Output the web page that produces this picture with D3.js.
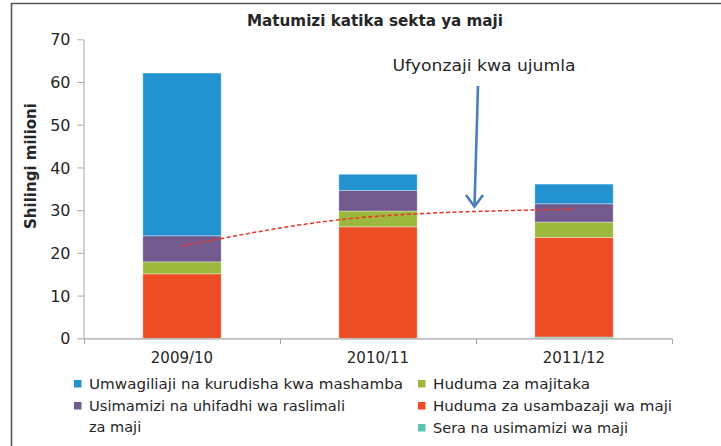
<!DOCTYPE html>
<html><head><meta charset="utf-8">
<script src="https://cdn.jsdelivr.net/npm/d3@7"></script>
<style>body{margin:0;background:#fff}svg{display:block}text{font-family:"DejaVu Sans",sans-serif;fill:#262626}</style>
</head><body>
<svg id="c" width="721" height="446"></svg>
<script>
const categories = ["2009/10", "2010/11", "2011/12"];
const seriesNames = [
  "Sera na usimamizi wa maji",
  "Huduma za usambazaji wa maji",
  "Huduma za majitaka",
  "Usimamizi na uhifadhi wa raslimali za maji",
  "Umwagiliaji na kurudisha kwa mashamba"
];
const sera = [0, 0, 0.3];
const usambazaji = [15.1, 26.1, 23.3];
const majitaka = [2.8, 3.7, 3.6];
const usimamizi = [6.1, 4.8, 4.3];
const umwagiliaji = [38.1, 3.8, 4.6];
const ufyonzaji = [21.6, 28.6, 30.2];
const yTicks = [0, 10, 20, 30, 40, 50, 60, 70];
const colors = ["#5cc4b6", "#ec4d24", "#9db93d", "#735a8e", "#2293d0"];

const seriesValues = [sera, usambazaji, majitaka, usimamizi, umwagiliaji];
const rows = categories.map((c, i) => {
  const r = {cat: c};
  seriesNames.forEach((n, k) => r[n] = seriesValues[k][i]);
  return r;
});

const svg = d3.select("#c");
// frame
svg.append("path").attr("d", "M11.5,460V3.5H740").attr("fill", "none")
  .attr("stroke", "#555").attr("stroke-width", 1.6);

const y = d3.scaleLinear().domain([0, 70]).range([338.3, 39.3]);
const x = d3.scaleBand().domain(categories).range([84, 672]).paddingInner(0.6).paddingOuter(0.3);

// y axis
const yAxis = svg.append("g").attr("transform", "translate(83.5,0)")
  .call(d3.axisLeft(y).tickValues(yTicks).tickSize(6).tickSizeOuter(0).tickPadding(7));
yAxis.select(".domain").attr("stroke", "#a6a6a6");
yAxis.selectAll(".tick line").attr("stroke", "#a6a6a6");
yAxis.selectAll(".tick text").attr("font-size", 16).attr("font-family", "DejaVu Sans").attr("fill", "#262626").attr("dy", "0.35em");

// stacked bars
const stack = d3.stack().keys(seriesNames)(rows);
svg.append("g").selectAll("g").data(stack).join("g")
  .attr("fill", (d, i) => colors[i])
  .selectAll("rect").data(d => d).join("rect")
  .attr("x", d => x(d.data.cat))
  .attr("width", x.bandwidth())
  .attr("y", d => y(d[1]))
  .attr("height", d => Math.max(0, y(d[0]) - y(d[1])))
  .attr("stroke", "rgba(255,255,255,0.35)").attr("stroke-width", 1);

// x axis
const step = x.step(), pad = step * x.paddingInner() / 2;
const bounds = [x(categories[0]) - pad].concat(categories.map(c => x(c) + x.bandwidth() + pad));
const xg = svg.append("g");
xg.append("line").attr("x1", bounds[0]).attr("x2", bounds[bounds.length - 1])
  .attr("y1", 338.8).attr("y2", 338.8).attr("stroke", "#a6a6a6").attr("stroke-width", 1.2);
xg.selectAll("line.t").data(bounds).join("line").attr("class", "t")
  .attr("x1", d => Math.round(d) + 0.5).attr("x2", d => Math.round(d) + 0.5)
  .attr("y1", 338.8).attr("y2", 344).attr("stroke", "#a6a6a6");
xg.selectAll("text").data(categories).join("text")
  .attr("x", d => x(d) + x.bandwidth() / 2).attr("y", 363)
  .attr("text-anchor", "middle").attr("font-size", 15).text(d => d);

// total line
const line = d3.line()
  .x((d, i) => x(categories[i]) + x.bandwidth() / 2)
  .y(d => y(d))
  .curve(d3.curveMonotoneX);
svg.append("path").datum(ufyonzaji).attr("d", line).attr("fill", "none")
  .attr("stroke", "#e8332c").attr("stroke-width", 1.5).attr("stroke-dasharray", "4,2.5");

// annotation
svg.append("text").attr("x", 484).attr("y", 71).attr("text-anchor", "middle")
  .attr("font-size", 16).attr("textLength", 183).attr("lengthAdjust", "spacingAndGlyphs")
  .text("Ufyonzaji kwa ujumla");
svg.append("line").attr("x1", 478).attr("y1", 86).attr("x2", 474.5).attr("y2", 206)
  .attr("stroke", "#4a7ebb").attr("stroke-width", 2.6);
svg.append("path").attr("d", "M466,195L474.5,206.5L483,195").attr("fill", "none")
  .attr("stroke", "#4a7ebb").attr("stroke-width", 2.6);

// title
svg.append("text").attr("x", 375).attr("y", 26).attr("text-anchor", "middle")
  .attr("font-size", 15.5).attr("font-weight", "bold").attr("textLength", 256)
  .attr("lengthAdjust", "spacingAndGlyphs").text("Matumizi katika sekta ya maji");

// y title
svg.append("text").attr("transform", "translate(36,166) rotate(-90)")
  .attr("text-anchor", "middle").attr("font-size", 15).attr("font-weight", "bold")
  .text("Shilingi milioni");

// legend
const legendItems = [
  {k: 4, x: 74, y: 384, lines: ["Umwagiliaji na kurudisha kwa mashamba"], w: 314},
  {k: 3, x: 74, y: 406, lines: ["Usimamizi na uhifadhi wa raslimali", "za maji"], w: 256},
  {k: 2, x: 418, y: 384, lines: ["Huduma za majitaka"], w: 157},
  {k: 1, x: 418, y: 406, lines: ["Huduma za usambazaji wa maji"], w: 239},
  {k: 0, x: 418, y: 428, lines: ["Sera na usimamizi wa maji"], w: 195}
];
const lg = svg.append("g");
legendItems.forEach(it => {
  lg.append("rect").attr("x", it.x).attr("y", it.y - 4).attr("width", 7.5).attr("height", 7.5)
    .attr("fill", colors[it.k]);
  it.lines.forEach((t, j) => {
    const tx = lg.append("text").attr("x", it.x + 15).attr("y", it.y + 5 + j * 21)
      .attr("font-size", 14.5).text(t);
    if (j === 0) tx.attr("textLength", it.w).attr("lengthAdjust", "spacingAndGlyphs");
  });
});
</script>
</body></html>
